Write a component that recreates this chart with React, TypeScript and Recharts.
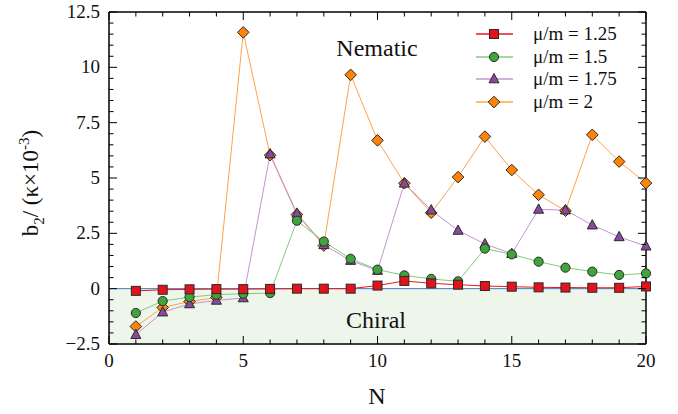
import React from "react";
import {
  LineChart,
  Line,
  XAxis,
  YAxis,
  ReferenceArea,
  ReferenceLine,
} from "recharts";

const nValues = [1, 2, 3, 4, 5, 6, 7, 8, 9, 10, 11, 12, 13, 14, 15, 16, 17, 18, 19, 20];
const mu125 = [-0.1, -0.05, -0.03, -0.02, -0.02, -0.01, 0, 0, 0, 0.14, 0.35, 0.24, 0.18, 0.12, 0.09, 0.06, 0.05, 0.04, 0.04, 0.1];
const mu15 = [-1.1, -0.56, -0.38, -0.27, -0.23, -0.2, 3.07, 2.13, 1.35, 0.86, 0.6, 0.44, 0.33, 1.81, 1.55, 1.22, 0.95, 0.77, 0.62, 0.69];
const mu175 = [-2.08, -1.06, -0.69, -0.53, -0.42, 6.08, 3.4, 1.98, 1.27, 0.82, 4.76, 3.55, 2.63, 2.02, 1.58, 3.58, 3.55, 2.87, 2.34, 1.92];
const mu2 = [-1.71, -0.85, -0.58, -0.4, 11.58, 6.03, 3.35, 1.95, 9.66, 6.7, 4.76, 3.43, 5.04, 6.87, 5.36, 4.24, 3.52, 6.95, 5.74, 4.77];

const xTicks = [0, 1, 2, 3, 4, 5, 6, 7, 8, 9, 10, 11, 12, 13, 14, 15, 16, 17, 18, 19, 20];
const xMajor = [0, 5, 10, 15, 20];
const yTicks = [
  -2.5, -2, -1.5, -1, -0.5, 0, 0.5, 1, 1.5, 2, 2.5, 3, 3.5, 4, 4.5, 5, 5.5, 6, 6.5, 7, 7.5,
  8, 8.5, 9, 9.5, 10, 10.5, 11, 11.5, 12, 12.5,
];
const yMajor = [-2.5, 0, 2.5, 5, 7.5, 10, 12.5];
const seriesNames = ["μ/m = 1.25", "μ/m = 1.5", "μ/m = 1.75", "μ/m = 2"];

const data = nValues.map((n, i) => ({
  N: n,
  a: mu125[i],
  b: mu15[i],
  c: mu175[i],
  d: mu2[i],
}));

const FONT = "Liberation Serif";
const MAJOR = 8;
const MINOR = 4.5;
const M = { top: 12, right: 32, bottom: 40, left: 69 };
const W = 678;
const H = 414;
// plot edges, used for the mirrored ticks on the top and right sides
const PLOT_TOP = M.top;
const PLOT_RIGHT = W - M.right;

const fmt = (v: number) => (v < 0 ? "\u2212" + String(-v) : String(v));

const BottomTick = (p: any) => {
  const v = p.payload.value;
  const len = xMajor.includes(v) ? MAJOR : MINOR;
  return (
    <g>
      <line x1={p.x} x2={p.x} y1={p.y} y2={p.y - len} stroke="#000" strokeWidth={1} />
      <line x1={p.x} x2={p.x} y1={PLOT_TOP} y2={PLOT_TOP + len} stroke="#000" strokeWidth={1} />
      {len === MAJOR && (
        <text x={p.x} y={p.y + 23} textAnchor="middle" fontFamily={FONT} fontSize={19} fill="#111">
          {v}
        </text>
      )}
    </g>
  );
};

const LeftTick = (p: any) => {
  const v = p.payload.value;
  const len = yMajor.includes(v) ? MAJOR : MINOR;
  return (
    <g>
      <line x1={p.x} x2={p.x + len} y1={p.y} y2={p.y} stroke="#000" strokeWidth={1} />
      <line x1={PLOT_RIGHT} x2={PLOT_RIGHT - len} y1={p.y} y2={p.y} stroke="#000" strokeWidth={1} />
      {len === MAJOR && (
        <text x={p.x - 9} y={p.y + 6} textAnchor="end" fontFamily={FONT} fontSize={19} fill="#111">
          {fmt(v)}
        </text>
      )}
    </g>
  );
};

const Square = ({ cx, cy }: any) => (
  <rect x={cx - 4.5} y={cy - 4.5} width={9} height={9} fill="#e3121b" stroke="#2a2a2a" strokeWidth={1} />
);
const Circle = ({ cx, cy }: any) => (
  <circle cx={cx} cy={cy} r={4.6} fill="#3fa43b" stroke="#2a2a2a" strokeWidth={1} />
);
const Triangle = ({ cx, cy }: any) => (
  <polygon
    points={`${cx},${cy - 5.5} ${cx + 5},${cy + 3.8} ${cx - 5},${cy + 3.8}`}
    fill="#8a4a9c"
    stroke="#2a2a2a"
    strokeWidth={1}
  />
);
const Diamond = ({ cx, cy }: any) => (
  <polygon
    points={`${cx},${cy - 5.8} ${cx + 5.8},${cy} ${cx},${cy + 5.8} ${cx - 5.8},${cy}`}
    fill="#ff8406"
    stroke="#2a2a2a"
    strokeWidth={1}
  />
);

const series = [
  { key: "a", name: seriesNames[0], line: "#e8161e", Marker: Square },
  { key: "b", name: seriesNames[1], line: "#7fcc7a", Marker: Circle },
  { key: "c", name: seriesNames[2], line: "#c394d0", Marker: Triangle },
  { key: "d", name: seriesNames[3], line: "#ffa348", Marker: Diamond },
];

const LegendBox = () => (
  <div
    style={{
      position: "absolute",
      left: 475,
      top: 23,
      fontFamily: FONT,
      fontSize: 19,
      color: "#111",
    }}
  >
    {series.map((s) => (
      <div key={s.key} style={{ display: "flex", alignItems: "center", height: 22.5 }}>
        <svg width={40} height={22} style={{ marginRight: 18 }}>
          <line x1={1} x2={38} y1={11} y2={11} stroke={s.line} strokeWidth={1.6} />
          <s.Marker cx={19} cy={11} />
        </svg>
        <span>{s.name}</span>
      </div>
    ))}
  </div>
);

const textStyle = (left: number, top: number, size: number): React.CSSProperties => ({
  position: "absolute",
  left,
  top,
  transform: "translate(-50%, -50%)",
  fontFamily: FONT,
  fontSize: size,
  color: "#111",
  whiteSpace: "nowrap",
});

export default function App() {
  return (
    <div style={{ position: "absolute", left: 0, top: 0, width: W, height: H, background: "#fff" }}>
      <LineChart width={W} height={H} data={data} margin={M}>
        <ReferenceArea y1={-2.5} y2={0} fill="#eef6ec" fillOpacity={1} stroke="none" />
        <ReferenceLine y={0} stroke="#3f7bb8" strokeWidth={1} />
        <ReferenceLine y={12.5} stroke="#000" strokeWidth={1.5} />
        <ReferenceLine x={20} stroke="#000" strokeWidth={1.5} />
        <XAxis
          dataKey="N"
          type="number"
          domain={[0, 20]}
          ticks={xTicks}
          interval={0}
          height={30}
          tickSize={0}
          tickMargin={0}
          tickLine={false}
          tick={<BottomTick />}
          axisLine={{ stroke: "#000", strokeWidth: 1.5 }}
        />
        <YAxis
          type="number"
          domain={[-2.5, 12.5]}
          ticks={yTicks}
          interval={0}
          width={40}
          tickSize={0}
          tickMargin={0}
          tickLine={false}
          tick={<LeftTick />}
          axisLine={{ stroke: "#000", strokeWidth: 1.5 }}
        />
        {[...series].reverse().map((s) => (
          <Line
            key={s.key}
            dataKey={s.key}
            name={s.name}
            stroke={s.line}
            strokeWidth={1}
            isAnimationActive={false}
            dot={(p: any) => <s.Marker key={`${s.key}-${p.index}`} cx={p.cx} cy={p.cy} />}
            activeDot={false}
          />
        ))}
      </LineChart>
      <LegendBox />
      <div style={textStyle(377, 48, 24)}>Nematic</div>
      <div style={textStyle(376, 320, 24)}>Chiral</div>
      <div style={textStyle(377, 396, 24)}>N</div>
      <div style={{ ...textStyle(32, 183, 23), transform: "translate(-50%, -50%) rotate(-90deg)" }}>
        b<sub style={{ fontSize: 15 }}>2</sub>/ (κ×10<sup style={{ fontSize: 15 }}>-3</sup>)
      </div>
    </div>
  );
}
